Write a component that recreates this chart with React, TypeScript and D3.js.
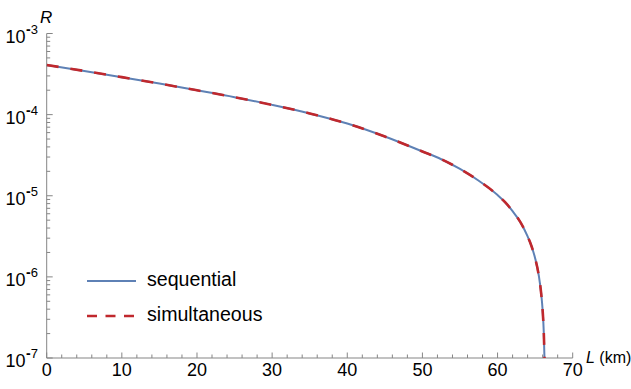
import React from "react";
import * as d3 from "d3";

const distanceKm = [0, 5, 10, 15, 20, 25, 30, 35, 40, 45, 50, 52.5, 55, 57.5, 60, 61, 62, 63, 64, 64.5, 65, 65.5, 65.8, 66, 66.15, 66.3];
const sequential = [4.093e-4, 3.451e-4, 2.897e-4, 2.415e-4, 1.995e-4, 1.641e-4, 1.318e-4, 1.035e-4, 7.76e-5, 5.37e-5, 3.51e-5, 2.82e-5, 2.14e-5, 1.53e-5, 1.02e-5, 8.32e-6, 6.46e-6, 4.79e-6, 3.16e-6, 2.42e-6, 1.7e-6, 1.02e-6, 6.31e-7, 3.85e-7, 2.09e-7, 6.31e-8];
const simultaneous = [4.093e-4, 3.451e-4, 2.897e-4, 2.415e-4, 1.995e-4, 1.641e-4, 1.318e-4, 1.035e-4, 7.76e-5, 5.37e-5, 3.51e-5, 2.82e-5, 2.14e-5, 1.53e-5, 1.02e-5, 8.32e-6, 6.46e-6, 4.79e-6, 3.16e-6, 2.42e-6, 1.7e-6, 1.02e-6, 6.31e-7, 3.85e-7, 2.09e-7, 6.31e-8];
const xTicks = [0, 10, 20, 30, 40, 50, 60, 70];
const yExponents = [-3, -4, -5, -6, -7];
const seriesNames = ["sequential", "simultaneous"];

const W = 631, H = 389;
const FONT = "'Liberation Sans', Arial, sans-serif";
const AXIS = "#858585";
const BLUE = "#5e81b5";
const RED = "#c0282d";

export default function App() {
  const x = d3.scaleLinear().domain([0, 70]).range([46.7, 572.7]);
  const y = d3.scaleLog().domain([1e-7, 1e-3]).range([358, 33.5]);
  const pts = (vals: number[]) => distanceKm.map((d, i) => [d, vals[i]] as [number, number]);
  const line = d3.line<[number, number]>().x(d => x(d[0])).y(d => y(d[1])).curve(d3.curveMonotoneX);
  const x0 = x(0), y0 = y(1e-7);
  const minorX = d3.range(0, 71, 2).filter(v => v % 10 !== 0);
  const minorY: number[] = [];
  for (let e = -7; e < -3; e++) for (let k = 2; k <= 9; k++) minorY.push(k * Math.pow(10, e));

  return (
    <svg width={W} height={H} style={{ position: "absolute", left: 0, top: 0, background: "#fff" }} fontFamily={FONT}>
      <defs>
        <clipPath id="plotclip">
          <rect x={x0} y={0} width={x(70) - x0 + 5} height={y0} />
        </clipPath>
      </defs>
      {/* axes */}
      <line x1={x0} x2={x(70)} y1={y0} y2={y0} stroke={AXIS} strokeWidth={1} />
      <line x1={x0} x2={x0} y1={y0} y2={y(1e-3)} stroke={AXIS} strokeWidth={1} />
      {xTicks.map(t => (
        <g key={"xt" + t}>
          <line x1={x(t)} x2={x(t)} y1={y0} y2={y0 - 5.5} stroke={AXIS} />
          <text x={x(t)} y={376} textAnchor="middle" fontSize={18} fill="#000">{t}</text>
        </g>
      ))}
      {minorX.map(t => (
        <line key={"xm" + t} x1={x(t)} x2={x(t)} y1={y0} y2={y0 - 3.5} stroke={AXIS} />
      ))}
      {yExponents.map(e => (
        <g key={"yt" + e}>
          <line x1={x0} x2={x0 + 6} y1={y(Math.pow(10, e))} y2={y(Math.pow(10, e))} stroke={AXIS} />
          <text x={38} y={y(Math.pow(10, e)) + 9.3} textAnchor="end" fontSize={18} fill="#000">
            10<tspan dy={-9.3} dx={0.5} fontSize={14} fontWeight="bold">-</tspan><tspan fontSize={13}>{Math.abs(e)}</tspan>
          </text>
        </g>
      ))}
      {minorY.map((v, i) => (
        <line key={"ym" + i} x1={x0} x2={x0 + 3.5} y1={y(v)} y2={y(v)} stroke={AXIS} />
      ))}
      <text x={40} y={23} fontSize={17} fontStyle="italic" fill="#000">R</text>
      <text x={586} y={363} fontSize={16} fill="#000"><tspan fontStyle="italic">L</tspan> (km)</text>
      {/* curves */}
      <g clipPath="url(#plotclip)">
        <path d={line(pts(sequential)) || ""} fill="none" stroke={BLUE} strokeWidth={2} />
        <path d={line(pts(simultaneous)) || ""} fill="none" stroke={RED} strokeWidth={2.6} strokeDasharray="12,12" />
      </g>
      {/* legend */}
      <line x1={87} x2={136} y1={281} y2={281} stroke={BLUE} strokeWidth={2} />
      <text x={147} y={286} fontSize={19.6} fill="#000">{seriesNames[0]}</text>
      <line x1={87} x2={136} y1={316} y2={316} stroke={RED} strokeWidth={2.6} strokeDasharray="10,8.5" />
      <text x={147} y={320.5} fontSize={19.6} fill="#000">{seriesNames[1]}</text>
    </svg>
  );
}
